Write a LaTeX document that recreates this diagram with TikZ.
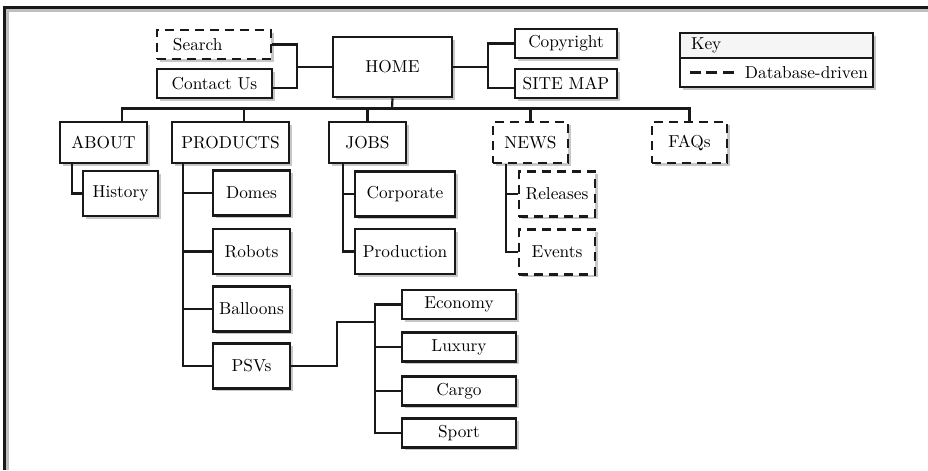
\documentclass[tikz,border=0pt]{standalone}
\usetikzlibrary{shadows}
\begin{document}
\begin{tikzpicture}[x=0.578pt,y=-0.578pt,
  every node/.style={font=\fontsize{10}{12}\selectfont},
  bw/.style={minimum width=#1*0.578pt},
  bh/.style={minimum height=#1*0.578pt},
  box/.style={draw=black!90, line width=1.45pt, fill=white, inner sep=0pt,
    drop shadow={shadow xshift=1.45pt, shadow yshift=-1.45pt, opacity=1, fill=black!22}},
  dbbox/.style={box, dash pattern=on 5.2pt off 3.47pt},
  link/.style={line width=1.27pt, draw=black!90},
]
\useasboundingbox (0,0) rectangle (928,470);

% page frame (top and left edges)
\draw[line width=1.73pt, black!25] (7.5,470) -- (7.5,10.5) -- (928,10.5);
\draw[line width=1.73pt, black!90] (4.5,470) -- (4.5,7.5) -- (928,7.5);

% top level
\node[dbbox, bw=114, bh=29, text width=47.4pt, inner xsep=9.25pt, align=left] (search) at (214,44.5) {Search};
\node[box, bw=115, bh=29] (contact) at (214.5,83.5) {Contact Us};
\node[box, bw=119, bh=60] (home) at (392.5,67) {HOME};
\node[box, bw=102, bh=29] (copyright) at (566,43.5) {Copyright};
\node[box, bw=102, bh=29] (sitemap) at (566,83.5) {SITE MAP};

% key
\node[box, fill=black!4, bw=193, bh=25, text width=98.8pt, inner xsep=6.36pt, align=left] (keyhead) at (776.5,45.5) {Key};
\node[box, bw=193, bh=29] (keybody) at (776.5,72.5) {};
\node[anchor=east, inner xsep=3.47pt, inner ysep=0pt] (kdb) at (keybody.east) {Database-driven};
\draw[line width=1.39pt, black!90, dash pattern=on 6.36pt off 3.18pt] ([xshift=6.36pt]keybody.west) -- ([xshift=-2.89pt]kdb.west);

% second level
\node[box, bw=87, bh=41] (about) at (103.5,142.5) {ABOUT};
\node[box, bw=117, bh=41] (products) at (230.5,142.5) {PRODUCTS};
\node[box, bw=77, bh=41] (jobs) at (367.5,142.5) {JOBS};
\node[dbbox, bw=75, bh=41] (news) at (530.5,142.5) {NEWS};
\node[dbbox, bw=75, bh=41] (faqs) at (689.5,142.5) {FAQs};

% third level
\node[box, bw=75, bh=45] (history) at (120.5,193.5) {History};
\node[box, bw=77, bh=45] (domes) at (251.5,193) {Domes};
\node[box, bw=77, bh=45] (robots) at (251.5,251.5) {Robots};
\node[box, bw=77, bh=45] (balloons) at (251.5,309) {Balloons};
\node[box, bw=77, bh=45] (psvs) at (251.5,366) {PSVs};
\node[box, bw=100, bh=45] (corporate) at (405,194) {Corporate};
\node[box, bw=100, bh=45] (production) at (405,251.5) {Production};
\node[dbbox, bw=76, bh=45] (releases) at (557,194) {Releases};
\node[dbbox, bw=76, bh=45] (events) at (557,252) {Events};

% PSV range
\node[box, bw=114, bh=29] (economy) at (459,304.5) {Economy};
\node[box, bw=114, bh=29] (luxury) at (459,347) {Luxury};
\node[box, bw=114, bh=29] (cargo) at (459,391) {Cargo};
\node[box, bw=114, bh=29] (sport) at (459,433) {Sport};

% connectors around HOME
\coordinate (jl) at (297,67);
\coordinate (jr) at (488,67);
\coordinate (hb) at (392,108.5);
\draw[link] (search.east) -| (jl) |- ([yshift=-2.6pt]contact.east);
\draw[link] (jl) -- (home.west);
\draw[link] (home.east) -- (jr);
\draw[link] (copyright.west) -| (jr) |- ([yshift=-2.6pt]sitemap.west);
\draw[link] (home.south) -- (hb);

% main bus
\draw[link] ([xshift=10.69pt]about.north) |- (faqs.north |- hb) -- (faqs.north);
\draw[link] ([xshift=7.8pt]products.north) -- ([xshift=7.8pt]products.north |- hb);
\draw[link] (jobs.north) -- (jobs.north |- hb);
\draw[link] (news.north) -- (news.north |- hb);

% ABOUT branch
\draw[link] ([xshift=-18.2pt]about.south) |- (history.west);

% PRODUCTS branch
\coordinate (pt) at ([xshift=-27.46pt]products.south);
\draw[link] (pt) |- (psvs.west);
\draw[link] (pt |- domes.west) -- (domes.west);
\draw[link] (pt |- robots.west) -- (robots.west);
\draw[link] (pt |- balloons.west) -- (balloons.west);

% JOBS branch
\coordinate (jt) at ([xshift=-14.16pt]jobs.south);
\draw[link] (jt) |- (production.west);
\draw[link] (jt |- corporate.west) -- (corporate.west);

% NEWS branch
\coordinate (nt) at ([xshift=-14.16pt]news.south);
\draw[link] (nt) |- (events.west);
\draw[link] (nt |- releases.west) -- (releases.west);

% PSVs range
\coordinate (pbend) at (337,322);
\coordinate (rt) at (375,322);
\draw[link] (psvs.east) -| (pbend) -- (rt);
\draw[link] (economy.west) -| (rt |- sport.west) -- (sport.west);
\draw[link] (rt |- luxury.west) -- (luxury.west);
\draw[link] (rt |- cargo.west) -- (cargo.west);
\end{tikzpicture}
\end{document}
